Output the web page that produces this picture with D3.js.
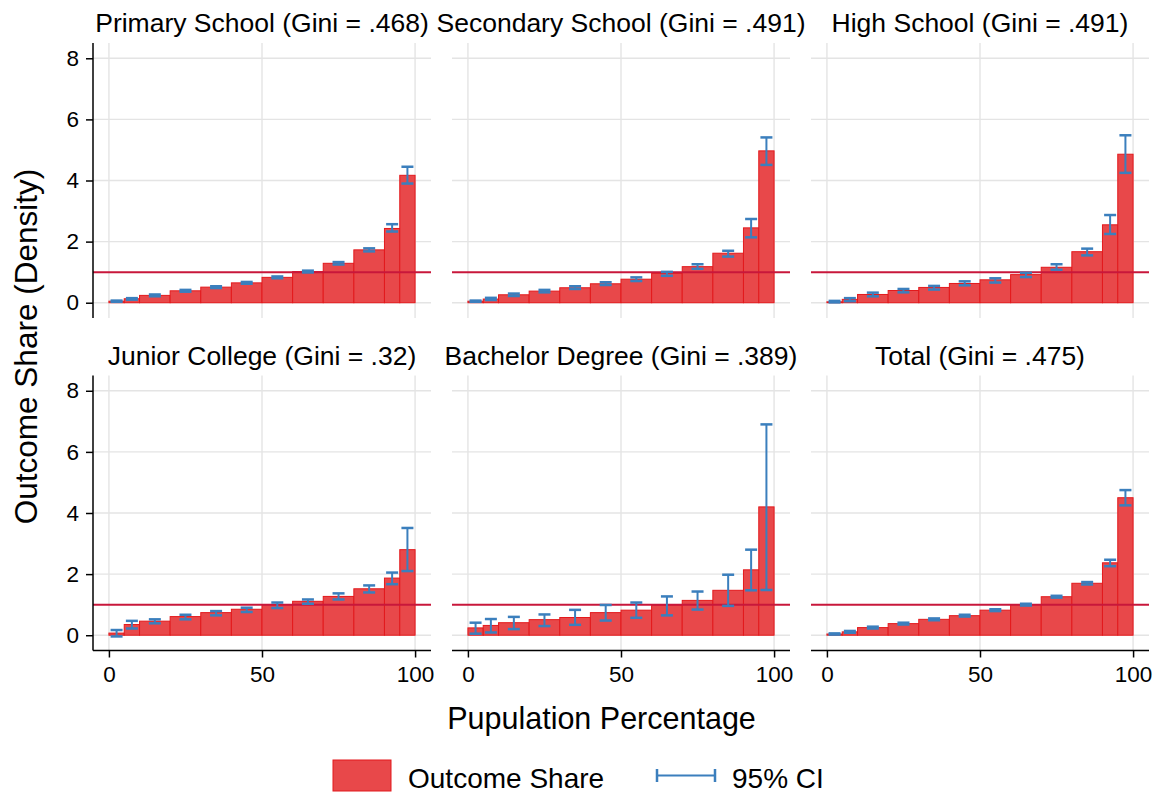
<!DOCTYPE html>
<html lang="en">
<head>
<meta charset="UTF-8">
<title>Outcome Share by Education</title>
<script src="https://cdn.jsdelivr.net/npm/d3@7"></script>
<style>
    body { margin: 0; background: #fff; }
    text { font-family: "Liberation Sans", Arial, Helvetica, sans-serif; fill: #000; }
</style>
</head>
<body>
<script>
// bin edges of population percentage
var binEdges = [0, 5, 10, 20, 30, 40, 50, 60, 70, 80, 90, 95, 100];

var panelTitles = [
    "Primary School (Gini = .468)", "Secondary School (Gini = .491)", "High School (Gini = .491)",
    "Junior College (Gini = .32)", "Bachelor Degree (Gini = .389)", "Total (Gini = .475)"
];

// outcome share (density) per bin
var primaryShare   = [0.05, 0.13, 0.24, 0.39, 0.51, 0.65, 0.83, 1.02, 1.29, 1.73, 2.43, 4.17];
var secondaryShare = [0.05, 0.12, 0.26, 0.38, 0.49, 0.62, 0.77, 0.96, 1.18, 1.62, 2.45, 4.97];
var highShare      = [0.03, 0.11, 0.27, 0.40, 0.50, 0.63, 0.75, 0.92, 1.16, 1.67, 2.55, 4.86];
var juniorShare    = [0.07, 0.35, 0.46, 0.61, 0.74, 0.85, 1.00, 1.11, 1.27, 1.52, 1.87, 2.80];
var bachelorShare  = [0.24, 0.32, 0.41, 0.51, 0.58, 0.74, 0.82, 0.98, 1.14, 1.47, 2.14, 4.20];
var totalShare     = [0.04, 0.11, 0.25, 0.38, 0.52, 0.64, 0.82, 1.00, 1.26, 1.70, 2.37, 4.50];

// 95% CI lower / upper
var primaryLo   = [0.03, 0.10, 0.21, 0.36, 0.48, 0.62, 0.80, 0.99, 1.25, 1.68, 2.33, 3.90];
var primaryHi   = [0.07, 0.15, 0.27, 0.42, 0.54, 0.68, 0.86, 1.05, 1.33, 1.78, 2.57, 4.45];
var secondaryLo = [0.03, 0.09, 0.22, 0.34, 0.45, 0.58, 0.71, 0.88, 1.11, 1.51, 2.14, 4.51];
var secondaryHi = [0.07, 0.16, 0.30, 0.42, 0.54, 0.67, 0.83, 1.01, 1.26, 1.70, 2.74, 5.41];
var highLo      = [0.01, 0.05, 0.21, 0.34, 0.43, 0.57, 0.66, 0.84, 1.08, 1.55, 2.25, 4.25];
var highHi      = [0.06, 0.15, 0.33, 0.45, 0.55, 0.70, 0.80, 0.98, 1.26, 1.77, 2.87, 5.48];
var juniorLo    = [-0.04, 0.22, 0.39, 0.52, 0.65, 0.76, 0.89, 1.03, 1.17, 1.40, 1.67, 2.10];
var juniorHi    = [0.17, 0.47, 0.52, 0.67, 0.79, 0.90, 1.07, 1.17, 1.37, 1.63, 2.05, 3.51];
var bachelorLo  = [0.05, 0.09, 0.20, 0.30, 0.34, 0.48, 0.57, 0.65, 0.84, 0.96, 1.47, 1.48];
var bachelorHi  = [0.41, 0.53, 0.60, 0.68, 0.83, 0.99, 1.07, 1.27, 1.43, 1.98, 2.80, 6.90];
var totalLo     = [0.02, 0.08, 0.22, 0.35, 0.49, 0.61, 0.79, 0.97, 1.23, 1.66, 2.26, 4.25];
var totalHi     = [0.06, 0.14, 0.28, 0.41, 0.55, 0.67, 0.85, 1.03, 1.29, 1.74, 2.47, 4.75];

var yTicks = [0, 2, 4, 6, 8];
var xTicks = [0, 50, 100];
var refLine = 1;

var panels = [
    { title: panelTitles[0], share: primaryShare,   lo: primaryLo,   hi: primaryHi },
    { title: panelTitles[1], share: secondaryShare, lo: secondaryLo, hi: secondaryHi },
    { title: panelTitles[2], share: highShare,      lo: highLo,      hi: highHi },
    { title: panelTitles[3], share: juniorShare,    lo: juniorLo,    hi: juniorHi },
    { title: panelTitles[4], share: bachelorShare,  lo: bachelorLo,  hi: bachelorHi },
    { title: panelTitles[5], share: totalShare,     lo: totalLo,     hi: totalHi }
];

var W = 1161, H = 795;
var colLeft = [93, 452, 811];
var rowTop = [43, 375.5];
var pw = 338, ph = 275;

var barFill = "#e8484a", barStroke = "#e3191c", ciColor = "#3b7fbd", refColor = "#c8173b", gridColor = "#e4e4e4";

var x = d3.scaleLinear().domain([-5.2, 105.2]).range([0, pw]);
var y = d3.scaleLinear().domain([-0.5, 8.5]).range([ph, 0]);

var svg = d3.select("body").append("svg").attr("width", W).attr("height", H);

panels.forEach(function(p, k) {
    var col = k % 3, row = Math.floor(k / 3);
    var g = svg.append("g").attr("transform", "translate(" + colLeft[col] + "," + rowTop[row] + ")");

    // grid
    g.selectAll(".hgrid").data(yTicks).enter().append("line")
        .attr("x1", 0).attr("x2", pw)
        .attr("y1", function(d){ return y(d); }).attr("y2", function(d){ return y(d); })
        .attr("stroke", gridColor).attr("stroke-width", 1.4);
    g.selectAll(".vgrid").data(xTicks).enter().append("line")
        .attr("x1", function(d){ return x(d); }).attr("x2", function(d){ return x(d); })
        .attr("y1", 0).attr("y2", ph)
        .attr("stroke", gridColor).attr("stroke-width", 1.4);

    var bins = p.share.map(function(v, i) {
        return { x0: binEdges[i], x1: binEdges[i + 1], v: v, lo: p.lo[i], hi: p.hi[i] };
    });

    // bars
    g.selectAll("rect.bar").data(bins).enter().append("rect")
        .attr("class", "bar")
        .attr("x", function(d){ return x(d.x0); })
        .attr("width", function(d){ return x(d.x1) - x(d.x0); })
        .attr("y", function(d){ return y(d.v); })
        .attr("height", function(d){ return y(0) - y(d.v); })
        .attr("fill", barFill)
        .attr("stroke", barStroke)
        .attr("stroke-width", 1);

    // reference line at 1
    g.append("line")
        .attr("x1", 0).attr("x2", pw)
        .attr("y1", y(refLine)).attr("y2", y(refLine))
        .attr("stroke", refColor).attr("stroke-width", 2);

    // CI whiskers
    var ci = g.selectAll("g.ci").data(bins).enter().append("g").attr("class", "ci");
    ci.append("line")
        .attr("x1", function(d){ return x((d.x0 + d.x1) / 2); })
        .attr("x2", function(d){ return x((d.x0 + d.x1) / 2); })
        .attr("y1", function(d){ return y(d.lo); })
        .attr("y2", function(d){ return y(d.hi); })
        .attr("stroke", ciColor).attr("stroke-width", 2);
    ["lo", "hi"].forEach(function(key) {
        ci.append("line")
            .attr("x1", function(d){ return x((d.x0 + d.x1) / 2) - 6; })
            .attr("x2", function(d){ return x((d.x0 + d.x1) / 2) + 6; })
            .attr("y1", function(d){ return y(d[key]); })
            .attr("y2", function(d){ return y(d[key]); })
            .attr("stroke", ciColor).attr("stroke-width", 2.5);
    });

    // title
    g.append("text")
        .attr("x", pw / 2).attr("y", -11)
        .attr("text-anchor", "middle")
        .attr("font-size", "26.5px")
        .text(p.title);

    // y axis on left column
    if (col === 0) {
        var ya = g.append("g").call(d3.axisLeft(y).tickValues(yTicks).tickSize(7).tickPadding(7).tickFormat(d3.format("d")));
        ya.select(".domain").attr("d", "M0," + ph + "V0").attr("stroke", "#000").attr("stroke-width", 1.5);
        ya.selectAll(".tick line").attr("stroke", "#000").attr("stroke-width", 1.5);
        ya.selectAll(".tick text").attr("font-size", "22.5px").attr("font-family", "Liberation Sans, Arial, sans-serif").attr("fill", "#000");
    }
    // x axis on bottom row
    if (row === 1) {
        var xa = g.append("g").attr("transform", "translate(0," + ph + ")")
            .call(d3.axisBottom(x).tickValues(xTicks).tickSize(7).tickPadding(9).tickFormat(d3.format("d")));
        xa.select(".domain").attr("d", "M0,0H" + pw).attr("stroke", "#000").attr("stroke-width", 1.5);
        xa.selectAll(".tick line").attr("stroke", "#000").attr("stroke-width", 1.5);
        xa.selectAll(".tick text").attr("font-size", "22.5px").attr("font-family", "Liberation Sans, Arial, sans-serif").attr("fill", "#000");
    }
});

// axis titles
svg.append("text")
    .attr("transform", "translate(37,346.5) rotate(-90)")
    .attr("text-anchor", "middle")
    .attr("font-size", "31.5px")
    .text("Outcome Share (Density)");

svg.append("text")
    .attr("x", 601.5).attr("y", 729)
    .attr("text-anchor", "middle")
    .attr("font-size", "30.5px")
    .text("Pupulation Percentage");

// legend
var leg = svg.append("g");
leg.append("rect").attr("x", 333).attr("y", 760).attr("width", 58).attr("height", 31)
    .attr("fill", barFill).attr("stroke", barStroke).attr("stroke-width", 1);
leg.append("text").attr("x", 408).attr("y", 787.5).attr("font-size", "28px").text("Outcome Share");
leg.append("line").attr("x1", 657).attr("x2", 715).attr("y1", 775.5).attr("y2", 775.5)
    .attr("stroke", ciColor).attr("stroke-width", 2);
leg.append("line").attr("x1", 657).attr("x2", 657).attr("y1", 769).attr("y2", 782)
    .attr("stroke", ciColor).attr("stroke-width", 2.5);
leg.append("line").attr("x1", 715).attr("x2", 715).attr("y1", 769).attr("y2", 782)
    .attr("stroke", ciColor).attr("stroke-width", 2.5);
leg.append("text").attr("x", 732).attr("y", 787.5).attr("font-size", "28px").text("95% CI");
</script>
</body>
</html>
